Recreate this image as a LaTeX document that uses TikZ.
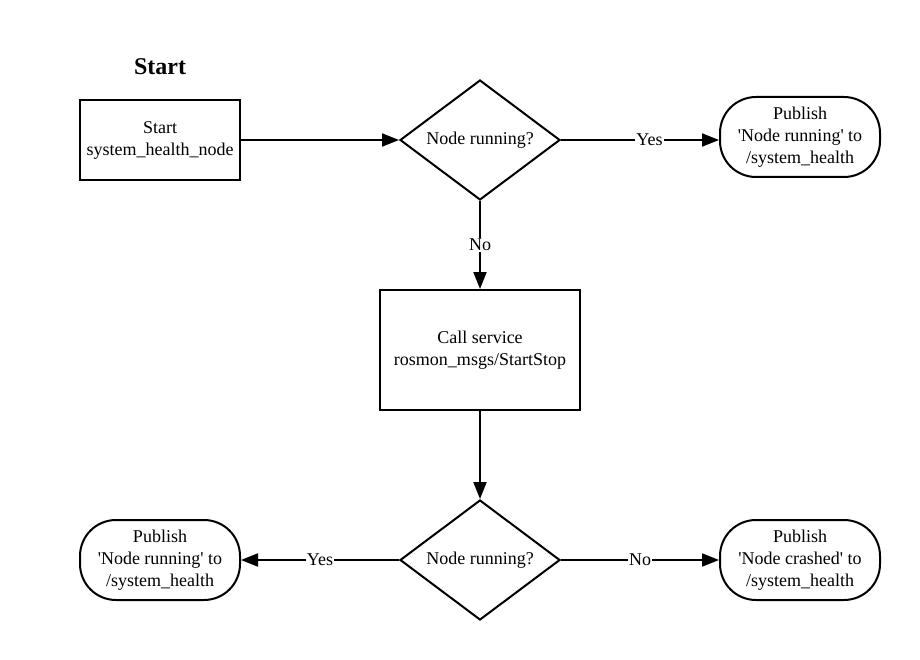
\documentclass[tikz,border=0pt]{standalone}
\usepackage{fontspec}
\setmainfont{Liberation Serif}
\usetikzlibrary{shapes.geometric,arrows.meta}
\begin{document}
\begin{tikzpicture}[x=1pt,y=-1pt,line width=2pt,
  box/.style={draw,rectangle,align=center,inner sep=0pt},
  decision/.style={draw,diamond,aspect=1.333,inner sep=0pt,minimum width=160pt,minimum height=120pt},
  terminal/.style={draw,rectangle,rounded corners=36pt,align=center,inner sep=0pt,minimum width=160pt,minimum height=80pt},
  arrow/.style={-{Triangle[length=17pt,width=13pt]}},
  answer/.style={fill=white,inner sep=1pt}]
\useasboundingbox (0,0) rectangle (920,660);
\fontsize{18}{22}\selectfont
\node[font=\bfseries\fontsize{24}{28}\selectfont] (title) at (160,67) {Start};
\node[box,minimum width=160pt,minimum height=80pt] (start) at (160,140) {Start\\system\_health\_node};
\node[decision] (check1) at (480,140) {Node running?};
\node[terminal] (pubok1) at (800,137) {Publish\\\textquotesingle Node running\textquotesingle{} to\\/system\_health};
\node[box,minimum width=200pt,minimum height=120pt] (call) at (480,350) {Call service\\rosmon\_msgs/StartStop};
\node[decision] (check2) at (480,560) {Node running?};
\node[terminal] (pubok2) at (160,560) {Publish\\\textquotesingle Node running\textquotesingle{} to\\/system\_health};
\node[terminal] (pubcrash) at (800,560) {Publish\\\textquotesingle Node crashed\textquotesingle{} to\\/system\_health};
% connectors
\draw[arrow] (start) -- (check1);
\draw[arrow] (check1) -- node[answer,pos=0.56] {Yes} (check1 -| pubok1.west);
\draw[arrow] (check1) -- node[answer] {No} (call);
\draw[arrow] (call) -- (check2);
\draw[arrow] (check2) -- node[answer] {Yes} (pubok2);
\draw[arrow] (check2) -- node[answer] {No} (pubcrash);
\end{tikzpicture}
\end{document}
